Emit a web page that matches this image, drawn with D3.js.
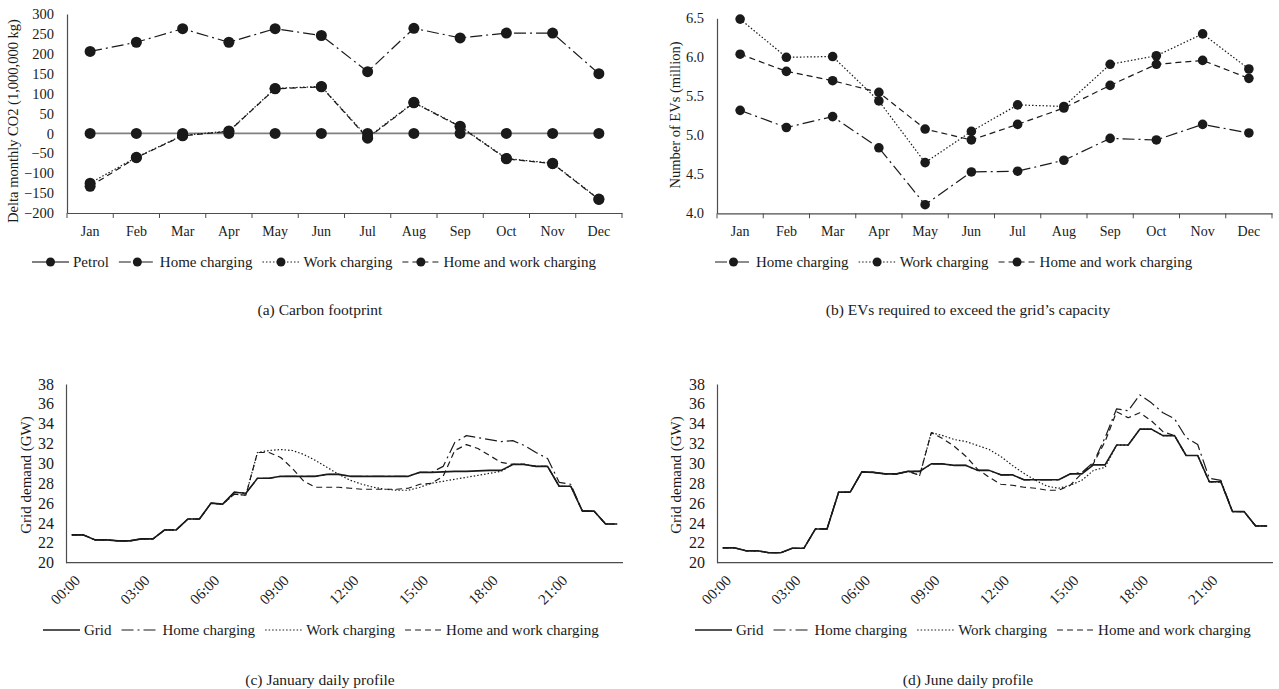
<!DOCTYPE html>
<html>
<head>
<meta charset="utf-8">
<script src="https://cdn.jsdelivr.net/npm/d3@7"></script>
<style>
body { margin: 0; background: #fff; }
svg text { font-family: "Liberation Serif", "Times New Roman", serif; fill: #1a1a1a; }
</style>
</head>
<body>
<svg id="chart" width="1279" height="689"></svg>
<script>
// monthly data
const months = ["Jan", "Feb", "Mar", "Apr", "May", "Jun", "Jul", "Aug", "Sep", "Oct", "Nov", "Dec"];
const co2Petrol = [0, 0, 0, 0, 0, 0, 0, 0, 0, 0, 0, 0];
const co2Home = [206, 229, 263, 229, 263, 246, 155, 264, 240, 252, 252, 150];
const co2Work = [-125, -60, -5, 6, 113, 118, -10, 78, 18, -63, -75, -165];
const co2HomeWork = [-133, -61, -6, 5, 112, 117, -12, 77, 17, -64, -76, -166];
const co2Ticks = [300, 250, 200, 150, 100, 50, 0, -50, -100, -150, -200];

const evHome = [5.32, 5.10, 5.24, 4.84, 4.11, 4.53, 4.54, 4.68, 4.96, 4.94, 5.14, 5.03];
const evWork = [6.49, 6.00, 6.01, 5.44, 4.65, 5.05, 5.39, 5.37, 5.91, 6.02, 6.30, 5.85];
const evHomeWork = [6.04, 5.82, 5.70, 5.55, 5.08, 4.94, 5.14, 5.35, 5.64, 5.91, 5.96, 5.73];
const evTicks = [6.5, 6.0, 5.5, 5.0, 4.5, 4.0];

// half-hourly profiles
const halfHours = ["00:00", "00:30", "01:00", "01:30", "02:00", "02:30", "03:00", "03:30",
    "04:00", "04:30", "05:00", "05:30", "06:00", "06:30", "07:00", "07:30",
    "08:00", "08:30", "09:00", "09:30", "10:00", "10:30", "11:00", "11:30",
    "12:00", "12:30", "13:00", "13:30", "14:00", "14:30", "15:00", "15:30",
    "16:00", "16:30", "17:00", "17:30", "18:00", "18:30", "19:00", "19:30",
    "20:00", "20:30", "21:00", "21:30", "22:00", "22:30", "23:00", "23:30"];
const hourTicks = ["00:00", "03:00", "06:00", "09:00", "12:00", "15:00", "18:00", "21:00"];
const demandTicks = [20, 22, 24, 26, 28, 30, 32, 34, 36, 38];

const janGrid = [22.8, 22.8, 22.3, 22.3, 22.2, 22.2, 22.4, 22.4, 23.3, 23.3, 24.4, 24.4,
    26.0, 25.9, 27.1, 27.0, 28.5, 28.5, 28.7, 28.7, 28.7, 28.7, 28.9, 28.9,
    28.7, 28.7, 28.7, 28.7, 28.7, 28.7, 29.1, 29.1, 29.15, 29.2, 29.2, 29.25,
    29.3, 29.3, 29.9, 29.9, 29.7, 29.7, 27.7, 27.7, 25.2, 25.2, 23.9, 23.9];
const janHome = [22.8, 22.8, 22.3, 22.3, 22.2, 22.2, 22.4, 22.4, 23.3, 23.3, 24.4, 24.4,
    26.0, 25.9, 27.1, 27.0, 28.5, 28.5, 28.7, 28.7, 28.7, 28.7, 28.9, 28.9,
    28.7, 28.7, 28.7, 28.7, 28.7, 28.7, 29.1, 29.1, 29.7, 32.1, 32.8, 32.6,
    32.4, 32.2, 32.3, 31.8, 31.1, 30.5, 28.1, 27.9, 25.2, 25.2, 23.9, 23.9];
const janWork = [22.8, 22.8, 22.3, 22.3, 22.2, 22.2, 22.4, 22.4, 23.3, 23.3, 24.4, 24.4,
    26.0, 25.9, 26.9, 26.8, 31.1, 31.3, 31.4, 31.3, 30.9, 30.3, 29.6, 28.9,
    28.3, 27.9, 27.6, 27.4, 27.3, 27.3, 27.6, 28.0, 28.2, 28.4, 28.6, 28.8,
    29.0, 29.2, 29.9, 29.9, 29.7, 29.7, 27.7, 27.7, 25.2, 25.2, 23.9, 23.9];
const janHomeWork = [22.8, 22.8, 22.3, 22.3, 22.2, 22.2, 22.4, 22.4, 23.3, 23.3, 24.4, 24.4,
    26.0, 25.9, 26.9, 26.8, 31.1, 31.1, 30.6, 29.5, 28.2, 27.6, 27.6, 27.6,
    27.5, 27.4, 27.4, 27.4, 27.4, 27.5, 27.9, 28.0, 28.7, 31.3, 31.9, 31.5,
    30.8, 30.1, 29.9, 29.9, 29.7, 29.7, 27.7, 27.7, 25.2, 25.2, 23.9, 23.9];

const junGrid = [21.5, 21.5, 21.2, 21.2, 21.0, 21.0, 21.45, 21.45, 23.4, 23.4, 27.1, 27.1,
    29.15, 29.1, 28.95, 28.95, 29.2, 29.2, 29.95, 29.95, 29.8, 29.8, 29.3, 29.3,
    28.85, 28.85, 28.35, 28.35, 28.35, 28.35, 28.95, 28.95, 29.85, 29.85, 31.85, 31.85,
    33.45, 33.45, 32.8, 32.8, 30.8, 30.8, 28.15, 28.15, 25.15, 25.15, 23.7, 23.7];
const junHome = [21.5, 21.5, 21.2, 21.2, 21.0, 21.0, 21.45, 21.45, 23.4, 23.4, 27.1, 27.1,
    29.15, 29.1, 28.95, 28.95, 29.2, 29.2, 29.95, 29.95, 29.8, 29.8, 29.3, 29.3,
    28.85, 28.85, 28.35, 28.35, 28.35, 28.35, 28.95, 29.1, 30.1, 32.6, 35.5, 35.3,
    36.9, 36.1, 35.1, 34.5, 32.6, 31.9, 28.5, 28.3, 25.15, 25.15, 23.7, 23.7];
const junWork = [21.5, 21.5, 21.2, 21.2, 21.0, 21.0, 21.45, 21.45, 23.4, 23.4, 27.1, 27.1,
    29.15, 29.1, 28.95, 28.95, 29.2, 28.8, 33.1, 32.8, 32.4, 32.2, 31.8, 31.4,
    30.7, 29.8, 29.0, 28.3, 27.7, 27.5, 27.8, 28.3, 29.3, 29.6, 31.85, 31.85,
    33.45, 33.45, 32.8, 32.8, 30.8, 30.8, 28.15, 28.15, 25.15, 25.15, 23.7, 23.7];
const junHomeWork = [21.5, 21.5, 21.2, 21.2, 21.0, 21.0, 21.45, 21.45, 23.4, 23.4, 27.1, 27.1,
    29.15, 29.1, 28.95, 28.95, 29.2, 28.8, 33.1, 32.5, 31.7, 30.7, 29.4, 28.6,
    27.9, 27.8, 27.6, 27.5, 27.3, 27.3, 27.8, 29.0, 30.0, 32.2, 35.2, 34.6,
    35.1, 34.3, 33.2, 32.8, 30.8, 30.8, 28.15, 28.15, 25.15, 25.15, 23.7, 23.7];

const svg = d3.select("#chart");

// line styles shared by all four panels
const styles = {
    petrol: { dash: null, color: "#808080", width: 1.8 },
    grid: { dash: null, color: "#1a1a1a", width: 1.6 },
    home: { dash: "12,4,2,4", color: "#1a1a1a", width: 1.2 },
    work: { dash: "1.5,2", color: "#1a1a1a", width: 1.2 },
    both: { dash: "6,4", color: "#1a1a1a", width: 1.2 }
};

function styleAxis(g, size) {
    g.select(".domain").attr("stroke", "#4d4d4d").attr("stroke-width", 1.2);
    g.selectAll("text").style("font-size", size + "px").attr("fill", "#1a1a1a");
}

function drawLegend(items, x0, y0, markers) {
    var x = x0;
    var lineLen = 37;
    items.forEach(item => {
        var st = styles[item.style];
        svg.append("line")
            .attr("x1", x).attr("x2", x + lineLen)
            .attr("y1", y0).attr("y2", y0)
            .attr("stroke", st.color)
            .attr("stroke-width", st.width)
            .attr("stroke-dasharray", st.dash);
        if (markers) {
            svg.append("circle")
                .attr("cx", x + lineLen / 2).attr("cy", y0).attr("r", 4.5)
                .attr("fill", "#1a1a1a");
        }
        var t = svg.append("text")
            .attr("x", x + lineLen + 4).attr("y", y0 + 5)
            .style("font-size", "15px")
            .text(item.label);
        x += lineLen + 4 + t.node().getComputedTextLength() + 10;
    });
}

function drawCaption(text, x, y) {
    svg.append("text")
        .attr("x", x).attr("y", y)
        .attr("text-anchor", "middle")
        .style("font-size", "15.5px")
        .text(text);
}

function drawYLabel(text, x, y, size) {
    svg.append("text")
        .attr("transform", `translate(${x},${y}) rotate(-90)`)
        .attr("text-anchor", "middle")
        .style("font-size", size + "px")
        .text(text);
}

function monthlyChart(cfg) {
    const xb = d3.scaleBand().domain(months).range([cfg.left, cfg.right]);
    const y = d3.scaleLinear().domain(cfg.domain).range([cfg.bottom, cfg.top]);
    const cx = (d, i) => xb(months[i]) + xb.bandwidth() / 2;

    svg.append("g")
        .attr("transform", `translate(${cfg.left},0)`)
        .call(d3.axisLeft(y).tickValues(cfg.ticks).tickSize(0).tickPadding(13).tickFormat(cfg.format))
        .call(g => styleAxis(g, 14.5));

    svg.append("g")
        .attr("transform", `translate(0,${cfg.bottom})`)
        .call(d3.axisBottom(xb).tickSize(0).tickPadding(13).tickSizeOuter(0))
        .call(g => styleAxis(g, 14));

    // category separators below the axis
    const edges = months.map(m => xb(m)).concat([cfg.right]);
    svg.append("g").selectAll("line")
        .data(edges)
        .enter()
        .append("line")
        .attr("x1", d => d).attr("x2", d => d)
        .attr("y1", cfg.bottom).attr("y2", cfg.bottom + 5)
        .attr("stroke", "#4d4d4d");

    cfg.series.forEach(s => {
        var st = styles[s.style];
        svg.append("path")
            .datum(s.values)
            .attr("fill", "none")
            .attr("stroke", st.color)
            .attr("stroke-width", st.width)
            .attr("stroke-dasharray", st.dash)
            .attr("d", d3.line().x(cx).y(d => y(d)));
    });
    cfg.series.forEach(s => {
        svg.append("g").selectAll("circle")
            .data(s.values)
            .enter()
            .append("circle")
            .attr("cx", cx)
            .attr("cy", d => y(d))
            .attr("r", cfg.radius)
            .attr("fill", "#1a1a1a");
    });
}

function dailyChart(cfg) {
    const x = d3.scalePoint().domain(halfHours).range([cfg.left, cfg.right]).padding(0.5);
    const y = d3.scaleLinear().domain([20, 38]).range([562.7, 384]);

    svg.append("g")
        .attr("transform", `translate(${cfg.left},0)`)
        .call(d3.axisLeft(y).tickValues(demandTicks).tickSize(0).tickPadding(12))
        .call(g => styleAxis(g, 16));

    svg.append("g")
        .attr("transform", `translate(0,562.7)`)
        .call(d3.axisBottom(x).tickValues(hourTicks).tickSize(0).tickSizeOuter(0))
        .call(g => {
            g.select(".domain").attr("d", `M${cfg.left},0H${cfg.right}`);
            styleAxis(g, 15);
            g.selectAll("text")
                .attr("x", 0).attr("y", 0).attr("dy", "0.35em")
                .attr("text-anchor", "end")
                .attr("transform", "translate(5,15) rotate(-45)");
        });

    cfg.series.forEach(s => {
        var st = styles[s.style];
        svg.append("path")
            .datum(s.values)
            .attr("fill", "none")
            .attr("stroke", st.color)
            .attr("stroke-width", st.width)
            .attr("stroke-dasharray", st.dash)
            .attr("stroke-linejoin", "round")
            .attr("d", d3.line().x((d, i) => x(halfHours[i])).y(d => y(d)));
    });
}

// (a) carbon footprint
monthlyChart({
    left: 67, right: 622, top: 14, bottom: 213,
    domain: [-200, 300], ticks: co2Ticks, format: d3.format("d"), radius: 5.5,
    series: [
        { values: co2Petrol, style: "petrol" },
        { values: co2Home, style: "home" },
        { values: co2Work, style: "work" },
        { values: co2HomeWork, style: "both" }
    ]
});
drawYLabel("Delta monthly CO2 (1,000,000 kg)", 18, 121, 14.5);
drawLegend([
    { label: "Petrol", style: "petrol" },
    { label: "Home charging", style: "home" },
    { label: "Work charging", style: "work" },
    { label: "Home and work charging", style: "both" }
], 32, 262, true);
drawCaption("(a) Carbon footprint", 320, 315);

// (b) EVs required to exceed the grid's capacity
monthlyChart({
    left: 717, right: 1272, top: 18.3, bottom: 213.3,
    domain: [4, 6.5], ticks: evTicks, format: d3.format(".1f"), radius: 4.8,
    series: [
        { values: evHome, style: "home" },
        { values: evWork, style: "work" },
        { values: evHomeWork, style: "both" }
    ]
});
drawYLabel("Number of EVs (million)", 680, 115, 14.5);
drawLegend([
    { label: "Home charging", style: "home" },
    { label: "Work charging", style: "work" },
    { label: "Home and work charging", style: "both" }
], 715, 262, true);
drawCaption("(b) EVs required to exceed the grid\u2019s capacity", 968, 315);

// (c) January daily profile
dailyChart({
    left: 66, right: 623,
    series: [
        { values: janWork, style: "work" },
        { values: janHomeWork, style: "both" },
        { values: janHome, style: "home" },
        { values: janGrid, style: "grid" }
    ]
});
drawYLabel("Grid demand (GW)", 31, 475, 15);
drawLegend([
    { label: "Grid", style: "grid" },
    { label: "Home charging", style: "home" },
    { label: "Work charging", style: "work" },
    { label: "Home and work charging", style: "both" }
], 43, 630, false);
drawCaption("(c) January daily profile", 320, 685);

// (d) June daily profile
dailyChart({
    left: 717, right: 1273,
    series: [
        { values: junWork, style: "work" },
        { values: junHomeWork, style: "both" },
        { values: junHome, style: "home" },
        { values: junGrid, style: "grid" }
    ]
});
drawYLabel("Grid demand (GW)", 681, 475, 15);
drawLegend([
    { label: "Grid", style: "grid" },
    { label: "Home charging", style: "home" },
    { label: "Work charging", style: "work" },
    { label: "Home and work charging", style: "both" }
], 695, 630, false);
drawCaption("(d) June daily profile", 968, 685);
</script>
</body>
</html>
